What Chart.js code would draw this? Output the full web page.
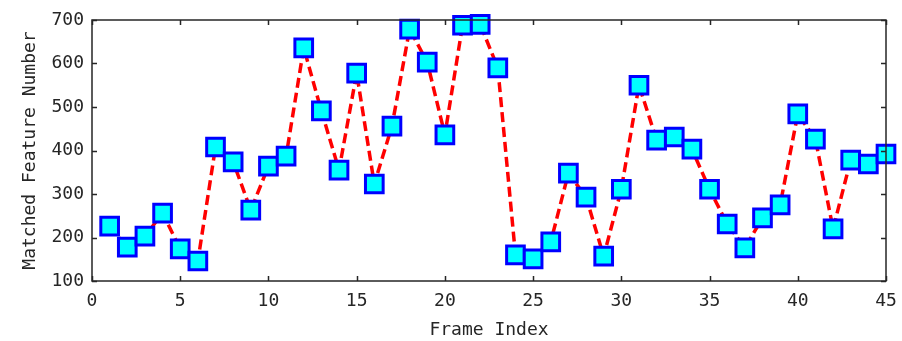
<!DOCTYPE html>
<html>
<head>
<meta charset="utf-8">
<script src="https://cdn.jsdelivr.net/npm/chart.js@4"></script>
<style>
  html, body { margin: 0; padding: 0; background: #fff; }
  #wrap { width: 902px; height: 341px; }
</style>
</head>
<body>
<div id="wrap"><canvas id="featureChart"></canvas></div>
<script>
// frame index -> number of matched features
const frames = [];
for (let i = 1; i <= 45; i++) frames.push(i);
const matchedCounts = [
    226, 178, 203, 256, 174, 146, 408, 374, 263, 364,
    387, 636, 491, 355, 578, 323, 456, 679, 603, 436,
    688, 690, 590, 160, 151, 190, 348, 293, 157, 311,
    550, 424, 431, 403, 311, 231, 176, 245, 275, 484,
    426, 220, 378, 369, 392
];
const xTicks = [0, 5, 10, 15, 20, 25, 30, 35, 40, 45];
const yTicks = [100, 200, 300, 400, 500, 600, 700];

const fontFace = "'DejaVu Sans Mono', monospace";
const inkColor = '#262626';

// box around the plot with ticks pointing inward on all four sides
const boxTicks = {
    id: 'boxTicks',
    afterDatasetsDraw(chart) {
        const ctx = chart.ctx;
        const a = chart.chartArea;
        const xs = chart.scales.x, ys = chart.scales.y;
        const len = 5;
        ctx.save();
        ctx.strokeStyle = inkColor;
        ctx.lineWidth = 1.5;
        ctx.beginPath();
        xTicks.forEach(v => {
            const px = Math.round(xs.getPixelForValue(v)) + 0.5;
            ctx.moveTo(px, a.bottom); ctx.lineTo(px, a.bottom - len);
            ctx.moveTo(px, a.top); ctx.lineTo(px, a.top + len);
        });
        yTicks.forEach(v => {
            const py = Math.round(ys.getPixelForValue(v)) + 0.5;
            ctx.moveTo(a.left, py); ctx.lineTo(a.left + len, py);
            ctx.moveTo(a.right, py); ctx.lineTo(a.right - len, py);
        });
        ctx.stroke();
        ctx.strokeRect(a.left, a.top, a.right - a.left, a.bottom - a.top);
        ctx.restore();
    }
};

const chartConfig = {
    type: 'line',
    data: {
        labels: frames,
        datasets: [{
            label: 'Matched features',
            data: frames.map((f, i) => ({ x: f, y: matchedCounts[i] })),
            borderColor: '#ff0000',
            borderWidth: 3.5,
            borderDash: [10, 5],
            fill: false,
            tension: 0,
            pointStyle: 'rect',
            pointRadius: 12.5,
            pointHoverRadius: 12.5,
            pointBorderWidth: 3,
            pointBorderColor: '#0000ff',
            pointBackgroundColor: '#00ffff'
        }]
    },
    options: {
        responsive: true,
        maintainAspectRatio: false,
        animation: false,
        clip: false,
        layout: { padding: { left: 0, right: 16, top: 20, bottom: 0 } },
        plugins: {
            legend: { display: false },
            tooltip: { enabled: false }
        },
        scales: {
            x: {
                type: 'linear',
                min: 0,
                max: 45,
                afterFit: s => { s.height = 60; s.paddingLeft = 0; s.paddingRight = 0; },
                afterBuildTicks: s => { s.ticks = xTicks.map(v => ({ value: v })); },
                grid: { display: false, drawTicks: false },
                border: { display: false },
                ticks: { color: inkColor, padding: 10, maxRotation: 0, font: { family: fontFace, size: 18 } },
                title: {
                    display: true,
                    text: 'Frame Index',
                    color: inkColor,
                    padding: { top: 2, bottom: 0 },
                    font: { family: fontFace, size: 18 }
                }
            },
            y: {
                min: 100,
                max: 700,
                afterFit: s => { s.width = 92; s.paddingTop = 0; s.paddingBottom = 0; },
                afterBuildTicks: s => { s.ticks = yTicks.map(v => ({ value: v })); },
                grid: { display: false, drawTicks: false },
                border: { display: false },
                ticks: { color: inkColor, padding: 8, font: { family: fontFace, size: 18 } },
                title: {
                    display: true,
                    text: 'Matched Feature Number',
                    color: inkColor,
                    padding: { top: 20, bottom: 0 },
                    font: { family: fontFace, size: 18 }
                }
            }
        }
    },
    plugins: [boxTicks]
};

const featureChart = new Chart(document.getElementById('featureChart').getContext('2d'), chartConfig);
</script>
</body>
</html>
